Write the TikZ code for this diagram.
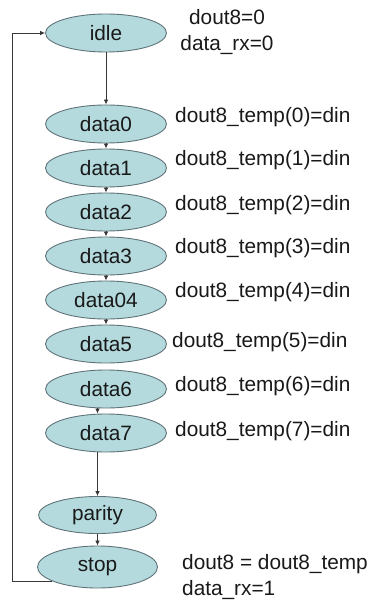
\documentclass[tikz,border=0pt]{standalone}
\usepackage{fontspec}
\setmainfont{Liberation Sans}
\usetikzlibrary{shapes.geometric,arrows.meta}
\definecolor{stfill}{RGB}{180,218,222}
\definecolor{stdraw}{RGB}{95,115,120}
\definecolor{lncol}{RGB}{55,55,55}
\definecolor{txtcol}{RGB}{25,25,25}
\begin{document}
\begin{tikzpicture}[x=1pt,y=-1pt,
  st/.style={ellipse, draw=stdraw, fill=stfill, line width=0.9pt,
    minimum width=121pt, minimum height=38pt, inner sep=0pt,
    font=\fontsize{20.8}{25}\selectfont, text=txtcol},
  lbl/.style={inner sep=0pt, font=\fontsize{20.8}{26}\selectfont, text=txtcol},
  conn/.style={draw=lncol, line width=0.8pt, -{Latex[length=5pt,width=4.5pt]}}]
\useasboundingbox (0,0) rectangle (369,604);
\fill[white] (0,0) rectangle (369,604);
% states
\node[st] (idle) at (106,33) {idle};
\node[st] (d0) at (106,124) {data0};
\node[st] (d1) at (106,168) {data1};
\node[st] (d2) at (106,212) {data2};
\node[st] (d3) at (106,256) {data3};
\node[st] (d4) at (106,300) {data04};
\node[st] (d5) at (106,344) {data5};
\node[st] (d6) at (106,389) {data6};
\node[st] (d7) at (106,433) {data7};
\node[st, minimum width=118pt, minimum height=37pt] (parity) at (97.5,515) {parity};
\node[st, minimum width=120pt, minimum height=42pt] (stop) at (97.5,567) {stop};
% labels
\node[lbl, align=center] (lidle) at (227,32) {dout8=0\\data\_rx=0};
\node[lbl, anchor=west] (l0) at (175,117) {dout8\_temp(0)=din};
\node[lbl, anchor=west] (l1) at (175,160) {dout8\_temp(1)=din};
\node[lbl, anchor=west] (l2) at (175,205) {dout8\_temp(2)=din};
\node[lbl, anchor=west] (l3) at (175,248) {dout8\_temp(3)=din};
\node[lbl, anchor=west] (l4) at (175,292) {dout8\_temp(4)=din};
\node[lbl, anchor=west] (l5) at (172,342) {dout8\_temp(5)=din};
\node[lbl, anchor=west] (l6) at (175,386) {dout8\_temp(6)=din};
\node[lbl, anchor=west] (l7) at (175,431) {dout8\_temp(7)=din};
\node[lbl, anchor=west, align=left] (lstop) at (182,577) {dout8 = dout8\_temp\\data\_rx=1};
% connectors
\draw[conn] (idle) -- (d0);
\draw[conn] (d0) -- (d1);
\draw[conn] (d1) -- (d2);
\draw[conn] (d2) -- (d3);
\draw[conn] (d3) -- (d4);
\draw[conn] (d4) -- (d5);
\draw[conn] ([xshift=-8.5pt]d6.south) -- ([xshift=-8.5pt]d7.north);
\draw[conn] (d7.south -| parity.north) -- (parity.north);
\draw[conn] (parity) -- (stop);
\coordinate (lx) at (12.7,580);
\draw[conn] (stop.197) -- (stop.197 -| lx) |- (idle.west);
\end{tikzpicture}
\end{document}
